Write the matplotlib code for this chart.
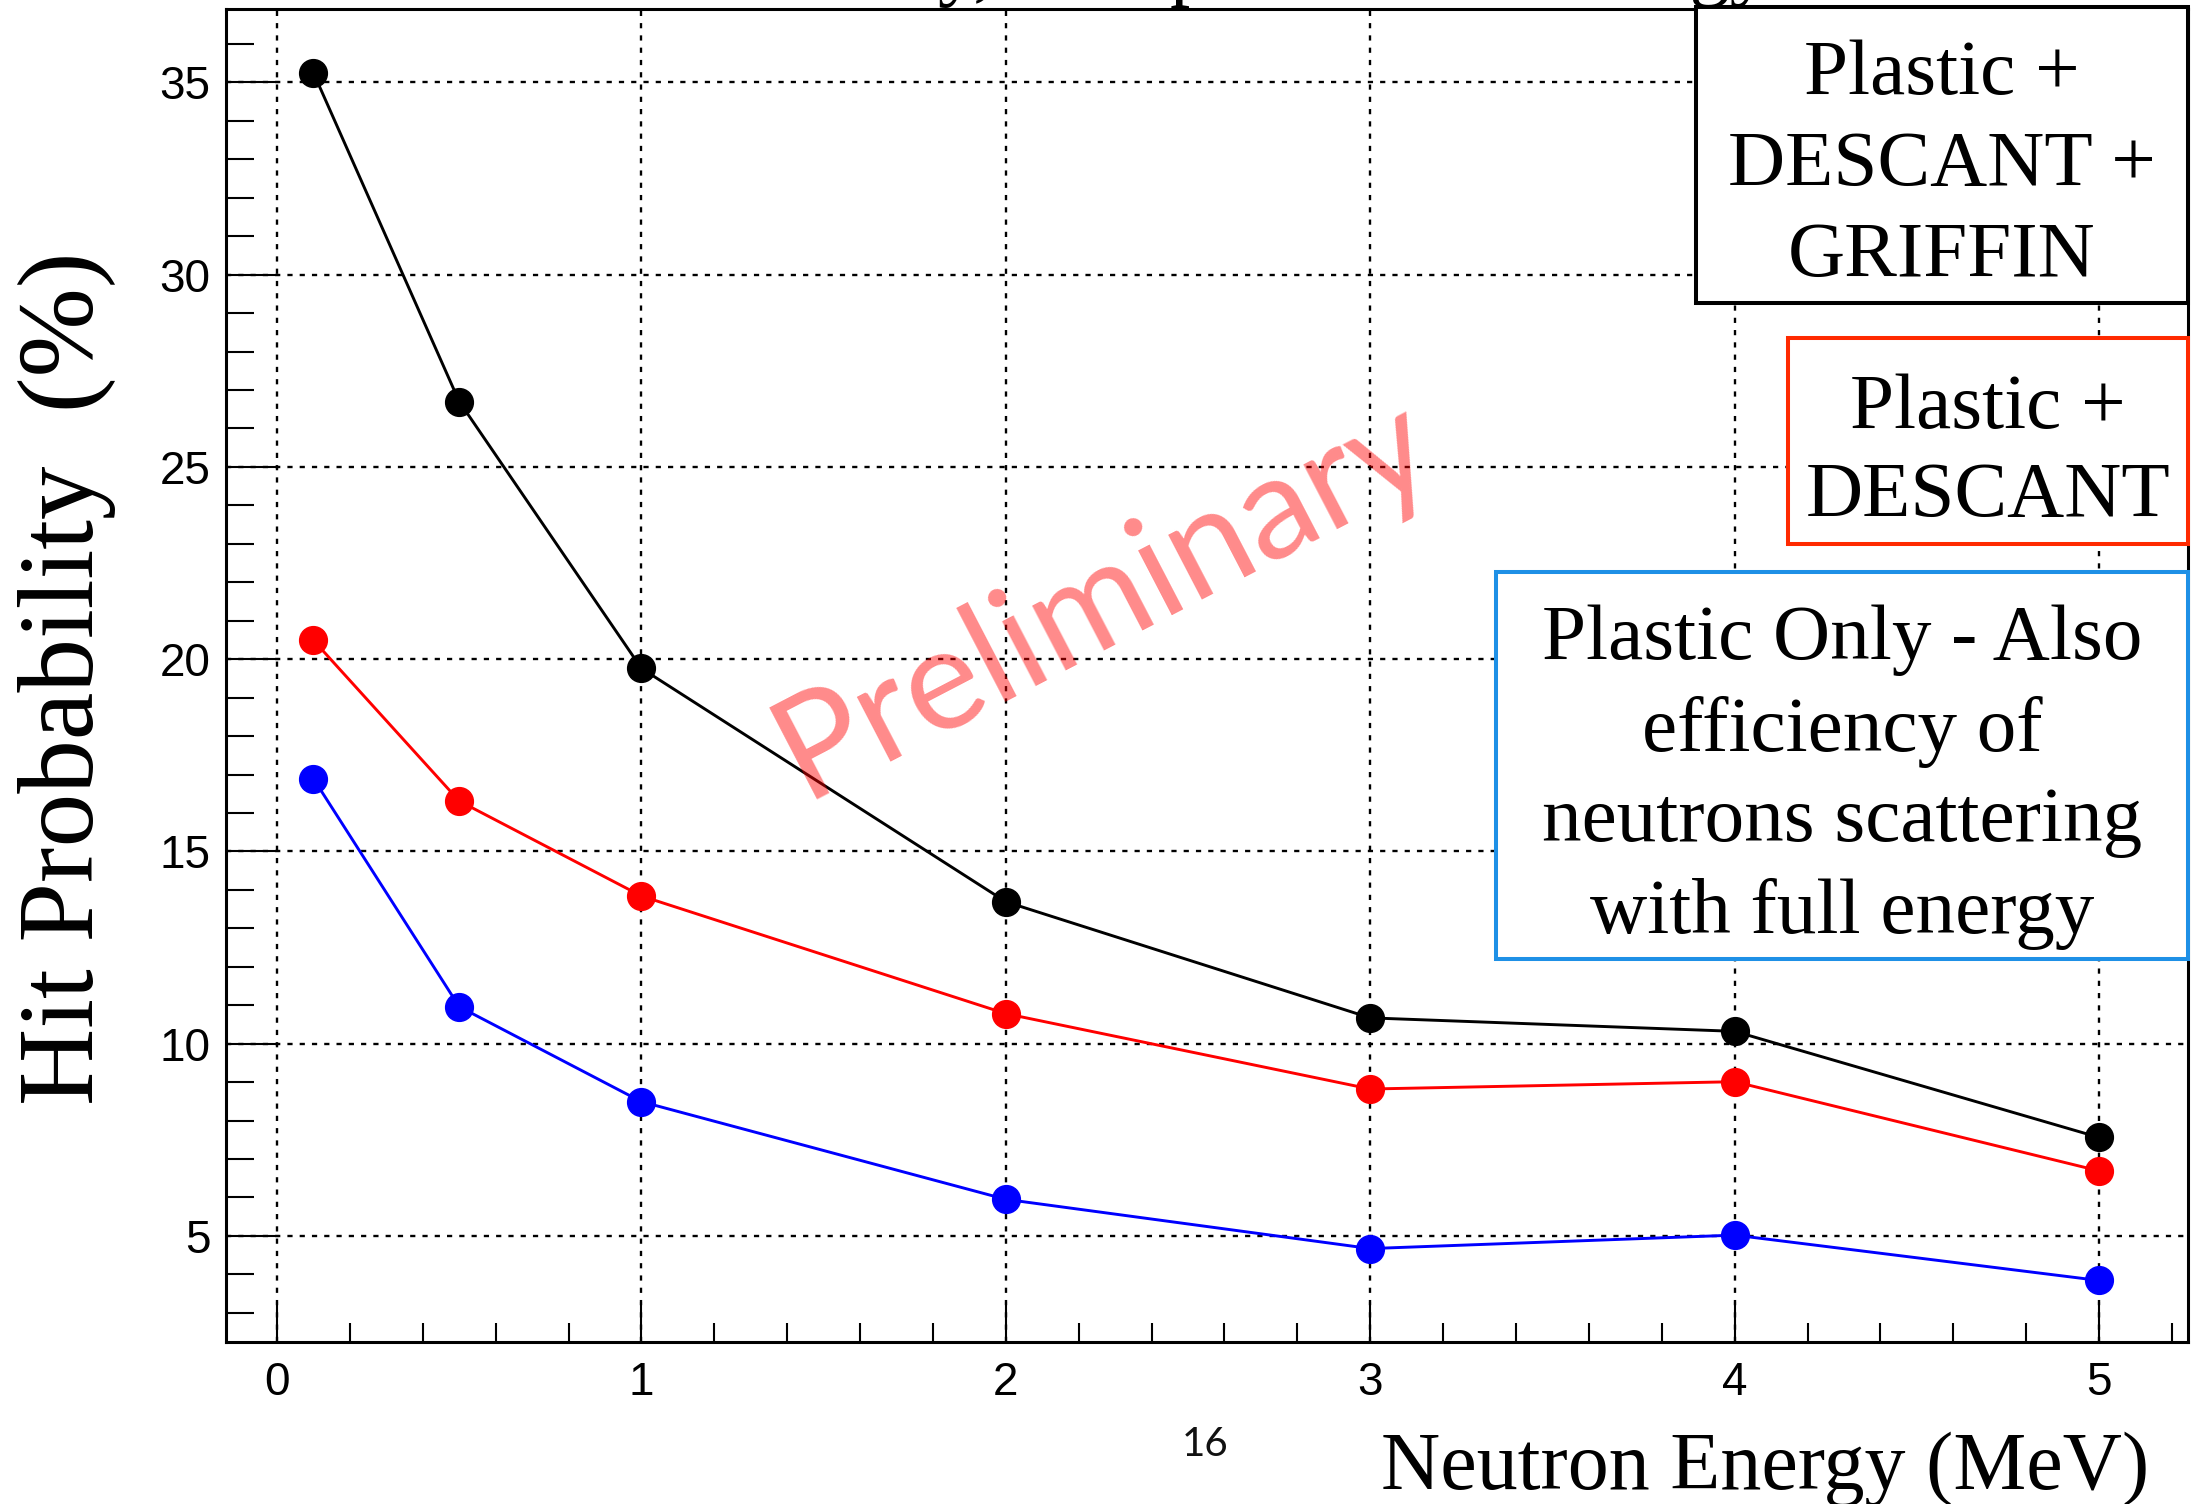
import matplotlib.pyplot as plt
from matplotlib.patches import Rectangle
from matplotlib.ticker import MultipleLocator

# neutron energy (MeV) and hit probability (%) per detector setup
energy = [0.1, 0.5, 1, 2, 3, 4, 5]
griffin = [35.25, 26.7, 19.76, 13.69, 10.67, 10.32, 7.56]
descant = [20.49, 16.31, 13.84, 10.78, 8.82, 9.01, 6.69]
plastic = [16.89, 10.96, 8.49, 5.95, 4.67, 5.02, 3.84]

series_colors = ['black', 'red', 'blue']

box_labels = [['Plastic +', 'DESCANT +', 'GRIFFIN'],
              ['Plastic +', 'DESCANT'],
              ['Plastic Only - Also', 'efficiency of', 'neutrons scattering', 'with full energy']]
box_edges = ['black', '#ff2a00', '#1e90e6']

W, H = 2192, 1504
SERIF = 'Liberation Serif'
SANS = 'Liberation Sans'


def fx(px):
    return px / W


def fy(py):
    return 1 - py / H


fig = plt.figure(figsize=(W / 100, H / 100), dpi=100)
ax = fig.add_axes([fx(226), fy(1342), fx(2188) - fx(226), fy(9) - fy(1342)])

for vals, c in zip([griffin, descant, plastic], series_colors):
    ax.plot(energy, vals, '-o', color=c, lw=2.1, ms=20, mec=c, zorder=3, clip_on=False)

ax.set_xlim(-0.14, 5.244)
ax.set_ylim(2.24, 36.91)
ax.xaxis.set_major_locator(MultipleLocator(1))
ax.xaxis.set_minor_locator(MultipleLocator(0.2))
ax.yaxis.set_major_locator(MultipleLocator(5))
ax.yaxis.set_minor_locator(MultipleLocator(1))

ax.grid(True, which='major', color='black', lw=1.7, linestyle=(0, (2.2, 3.0)), zorder=1)
ax.tick_params(axis='x', which='major', direction='in', length=29, width=1.5, pad=14,
               labelsize=33, top=False)
ax.tick_params(axis='x', which='minor', direction='in', length=14, width=1.5, top=False)
ax.tick_params(axis='y', which='major', direction='in', length=38, width=1.5, pad=11,
               labelsize=33, right=False)
ax.tick_params(axis='y', which='minor', direction='in', length=20, width=1.5, right=False)
for lab in ax.get_xticklabels() + ax.get_yticklabels():
    lab.set_family(SANS)
for sp in ax.spines.values():
    sp.set_linewidth(2.2)

# axis titles
fig.text(fx(67), fy(678), 'Hit Probability  (%)', rotation=90, ha='center', va='center',
         family=SERIF, fontsize=77)
fig.text(fx(2149), fy(1489), 'Neutron Energy (MeV)', ha='right', va='baseline',
         family=SERIF, fontsize=59)

# title, mostly cut off at the top of the picture
fig.text(fx(1770), fy(-9), 'Hit Probability, Comparison vs. Energy', ha='right', va='baseline',
         family=SERIF, fontsize=58)

# page number
fig.text(fx(1205), fy(1444), '16', ha='center', va='center', family='Lato', fontsize=29,
         color='#111111')

# watermark
fig.text(fx(1104), fy(598), 'Preliminary', rotation=27.5, rotation_mode='anchor',
         ha='center', va='center', family='Lato', fontsize=104, color='red', alpha=0.46,
         zorder=5)

# text boxes: (left, top, right, bottom) in pixels, then line centres
box_rects = [(1696, 7, 2188, 303), (1788, 338, 2188, 544), (1496, 572, 2188, 959)]
box_lines = [[67, 158, 249], [401, 489], [632, 723, 814, 905]]
for (l, t, r, b), lines, ys, ec in zip(box_rects, box_labels, box_lines, box_edges):
    fig.patches.append(Rectangle((fx(l), fy(b)), fx(r) - fx(l), fy(t) - fy(b),
                                 transform=fig.transFigure, facecolor='white',
                                 edgecolor=ec, lw=2.9, zorder=6))
    for line, y in zip(lines, ys):
        fig.text(fx((l + r) / 2), fy(y), line, ha='center', va='center_baseline',
                 family=SERIF, fontsize=57, zorder=7)

fig.savefig('out.png', dpi=100)
